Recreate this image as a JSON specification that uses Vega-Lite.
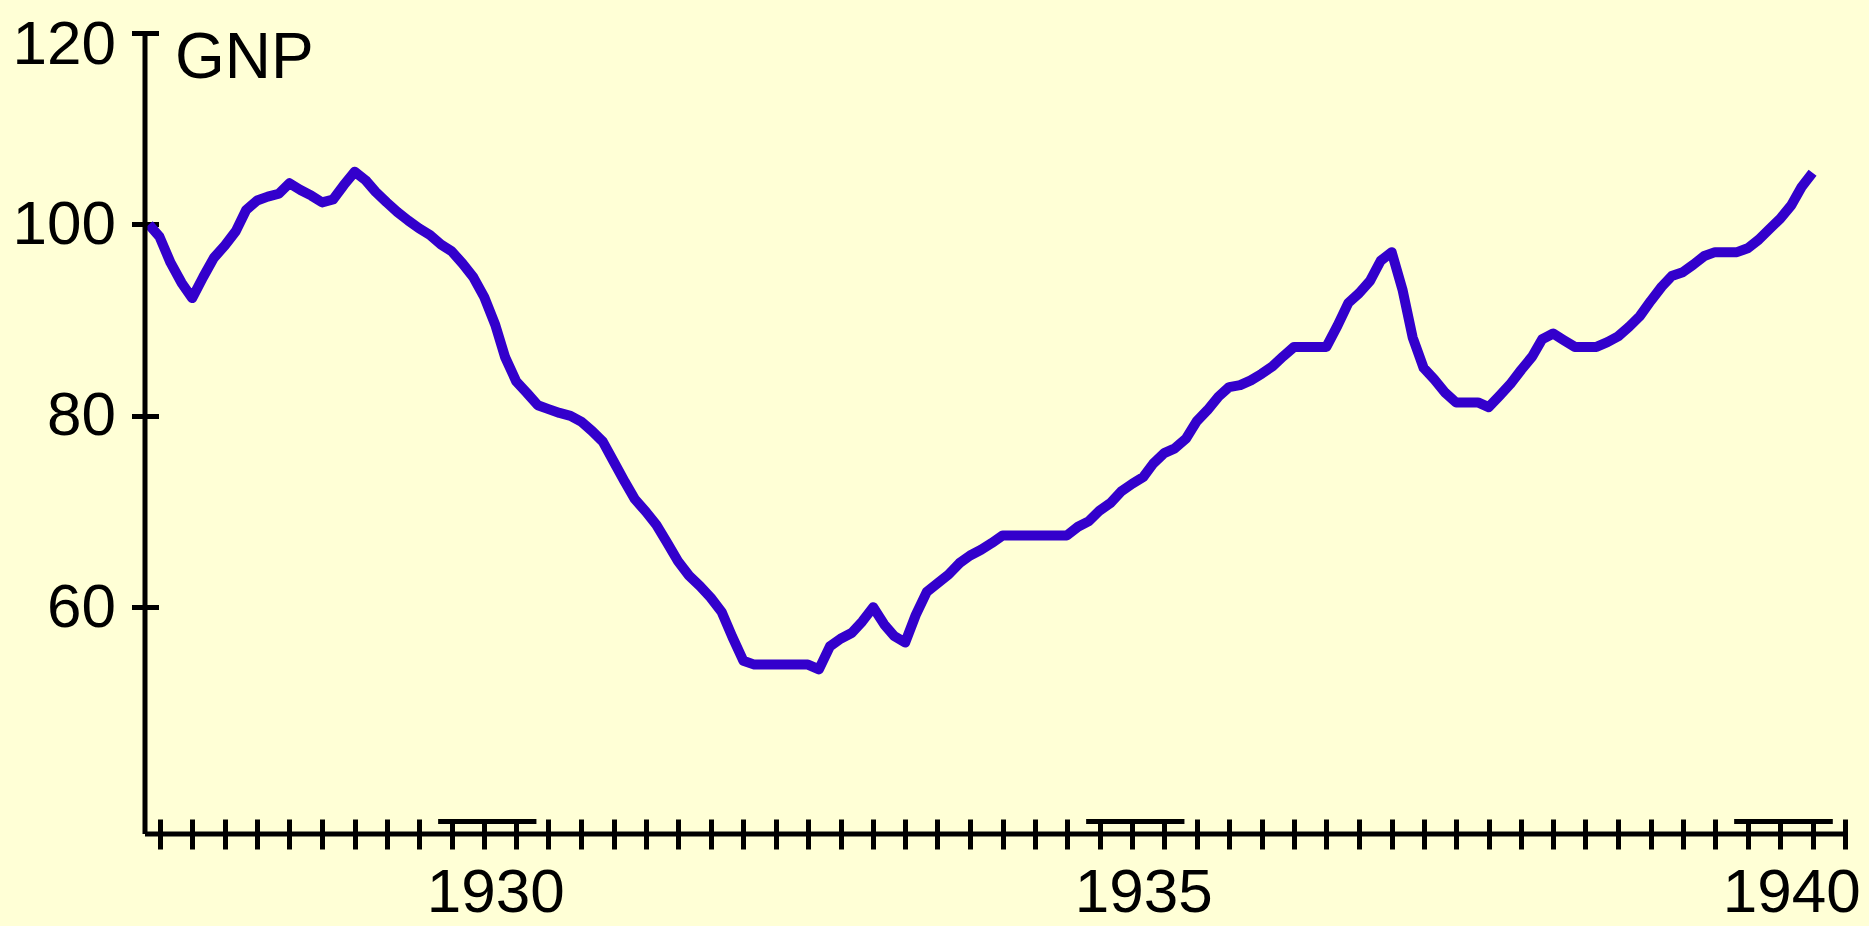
{
  "$schema": "https://vega.github.io/schema/vega-lite/v6.json",
  "autosize": "none",
  "width": 1702,
  "height": 801,
  "padding": {"left": 145, "top": 33, "right": 22, "bottom": 92},
  "background": "#FFFFD6",
  "config": {
    "view": {"stroke": null},
    "axis": {
      "labelFont": "Liberation Sans, sans-serif",
      "titleFont": "Liberation Sans, sans-serif",
      "labelColor": "black",
      "titleColor": "black",
      "tickColor": "black",
      "grid": false
    }
  },
  "datasets": {
    "gnp": [
      {"date": "1927-06-01", "gnp": 100.0},
      {"date": "1927-07-01", "gnp": 98.7},
      {"date": "1927-08-01", "gnp": 96.0},
      {"date": "1927-09-01", "gnp": 93.9},
      {"date": "1927-10-01", "gnp": 92.3},
      {"date": "1927-11-01", "gnp": 94.5},
      {"date": "1927-12-01", "gnp": 96.5},
      {"date": "1928-01-01", "gnp": 97.8},
      {"date": "1928-02-01", "gnp": 99.3},
      {"date": "1928-03-01", "gnp": 101.5},
      {"date": "1928-04-01", "gnp": 102.5},
      {"date": "1928-05-01", "gnp": 102.9},
      {"date": "1928-06-01", "gnp": 103.2},
      {"date": "1928-07-01", "gnp": 104.3},
      {"date": "1928-08-01", "gnp": 103.6},
      {"date": "1928-09-01", "gnp": 103.0},
      {"date": "1928-10-01", "gnp": 102.3},
      {"date": "1928-11-01", "gnp": 102.6},
      {"date": "1928-12-01", "gnp": 104.1},
      {"date": "1929-01-01", "gnp": 105.5},
      {"date": "1929-02-01", "gnp": 104.6},
      {"date": "1929-03-01", "gnp": 103.4},
      {"date": "1929-04-01", "gnp": 102.3},
      {"date": "1929-05-01", "gnp": 101.3},
      {"date": "1929-06-01", "gnp": 100.4},
      {"date": "1929-07-01", "gnp": 99.6},
      {"date": "1929-08-01", "gnp": 98.9},
      {"date": "1929-09-01", "gnp": 97.9},
      {"date": "1929-10-01", "gnp": 97.2},
      {"date": "1929-11-01", "gnp": 95.9},
      {"date": "1929-12-01", "gnp": 94.5},
      {"date": "1930-01-01", "gnp": 92.4},
      {"date": "1930-02-01", "gnp": 89.5},
      {"date": "1930-03-01", "gnp": 86.1},
      {"date": "1930-04-01", "gnp": 83.6},
      {"date": "1930-05-01", "gnp": 82.4},
      {"date": "1930-06-01", "gnp": 81.1},
      {"date": "1930-07-01", "gnp": 80.7},
      {"date": "1930-08-01", "gnp": 80.3},
      {"date": "1930-09-01", "gnp": 80.0},
      {"date": "1930-10-01", "gnp": 79.4},
      {"date": "1930-11-01", "gnp": 78.4},
      {"date": "1930-12-01", "gnp": 77.3},
      {"date": "1931-01-01", "gnp": 75.2},
      {"date": "1931-02-01", "gnp": 73.1},
      {"date": "1931-03-01", "gnp": 71.3},
      {"date": "1931-04-01", "gnp": 70.0},
      {"date": "1931-05-01", "gnp": 68.6},
      {"date": "1931-06-01", "gnp": 66.7},
      {"date": "1931-07-01", "gnp": 64.8},
      {"date": "1931-08-01", "gnp": 63.3},
      {"date": "1931-09-01", "gnp": 62.2},
      {"date": "1931-10-01", "gnp": 61.0},
      {"date": "1931-11-01", "gnp": 59.5},
      {"date": "1931-12-01", "gnp": 56.9},
      {"date": "1932-01-01", "gnp": 54.4},
      {"date": "1932-02-01", "gnp": 54.0},
      {"date": "1932-03-01", "gnp": 54.0},
      {"date": "1932-04-01", "gnp": 54.0},
      {"date": "1932-05-01", "gnp": 54.0},
      {"date": "1932-06-01", "gnp": 54.0},
      {"date": "1932-07-01", "gnp": 54.0},
      {"date": "1932-08-01", "gnp": 53.5},
      {"date": "1932-09-01", "gnp": 55.9},
      {"date": "1932-10-01", "gnp": 56.7},
      {"date": "1932-11-01", "gnp": 57.3},
      {"date": "1932-12-01", "gnp": 58.5},
      {"date": "1933-01-01", "gnp": 60.0},
      {"date": "1933-02-01", "gnp": 58.2},
      {"date": "1933-03-01", "gnp": 57.0},
      {"date": "1933-04-01", "gnp": 56.3},
      {"date": "1933-05-01", "gnp": 59.2},
      {"date": "1933-06-01", "gnp": 61.6},
      {"date": "1933-07-01", "gnp": 62.5},
      {"date": "1933-08-01", "gnp": 63.4},
      {"date": "1933-09-01", "gnp": 64.6},
      {"date": "1933-10-01", "gnp": 65.4},
      {"date": "1933-11-01", "gnp": 66.0},
      {"date": "1933-12-01", "gnp": 66.7},
      {"date": "1934-01-01", "gnp": 67.5},
      {"date": "1934-02-01", "gnp": 67.5},
      {"date": "1934-03-01", "gnp": 67.5},
      {"date": "1934-04-01", "gnp": 67.5},
      {"date": "1934-05-01", "gnp": 67.5},
      {"date": "1934-06-01", "gnp": 67.5},
      {"date": "1934-07-01", "gnp": 67.5},
      {"date": "1934-08-01", "gnp": 68.4},
      {"date": "1934-09-01", "gnp": 69.0},
      {"date": "1934-10-01", "gnp": 70.1},
      {"date": "1934-11-01", "gnp": 70.9},
      {"date": "1934-12-01", "gnp": 72.1},
      {"date": "1935-01-01", "gnp": 72.9},
      {"date": "1935-02-01", "gnp": 73.6},
      {"date": "1935-03-01", "gnp": 75.0},
      {"date": "1935-04-01", "gnp": 76.1},
      {"date": "1935-05-01", "gnp": 76.6},
      {"date": "1935-06-01", "gnp": 77.6},
      {"date": "1935-07-01", "gnp": 79.4},
      {"date": "1935-08-01", "gnp": 80.6},
      {"date": "1935-09-01", "gnp": 82.0},
      {"date": "1935-10-01", "gnp": 83.0},
      {"date": "1935-11-01", "gnp": 83.2},
      {"date": "1935-12-01", "gnp": 83.7},
      {"date": "1936-01-01", "gnp": 84.4},
      {"date": "1936-02-01", "gnp": 85.2},
      {"date": "1936-03-01", "gnp": 86.2},
      {"date": "1936-04-01", "gnp": 87.2},
      {"date": "1936-05-01", "gnp": 87.2},
      {"date": "1936-06-01", "gnp": 87.2},
      {"date": "1936-07-01", "gnp": 87.2},
      {"date": "1936-08-01", "gnp": 89.4},
      {"date": "1936-09-01", "gnp": 91.8},
      {"date": "1936-10-01", "gnp": 92.8},
      {"date": "1936-11-01", "gnp": 94.1},
      {"date": "1936-12-01", "gnp": 96.2},
      {"date": "1937-01-01", "gnp": 97.1},
      {"date": "1937-02-01", "gnp": 93.1},
      {"date": "1937-03-01", "gnp": 88.2},
      {"date": "1937-04-01", "gnp": 85.0},
      {"date": "1937-05-01", "gnp": 83.8},
      {"date": "1937-06-01", "gnp": 82.4},
      {"date": "1937-07-01", "gnp": 81.4},
      {"date": "1937-08-01", "gnp": 81.4},
      {"date": "1937-09-01", "gnp": 81.4},
      {"date": "1937-10-01", "gnp": 80.9},
      {"date": "1937-11-01", "gnp": 82.1},
      {"date": "1937-12-01", "gnp": 83.3},
      {"date": "1938-01-01", "gnp": 84.8},
      {"date": "1938-02-01", "gnp": 86.2},
      {"date": "1938-03-01", "gnp": 88.0},
      {"date": "1938-04-01", "gnp": 88.6},
      {"date": "1938-05-01", "gnp": 87.9},
      {"date": "1938-06-01", "gnp": 87.2},
      {"date": "1938-07-01", "gnp": 87.2},
      {"date": "1938-08-01", "gnp": 87.2},
      {"date": "1938-09-01", "gnp": 87.7},
      {"date": "1938-10-01", "gnp": 88.3},
      {"date": "1938-11-01", "gnp": 89.3},
      {"date": "1938-12-01", "gnp": 90.4},
      {"date": "1939-01-01", "gnp": 92.0},
      {"date": "1939-02-01", "gnp": 93.5},
      {"date": "1939-03-01", "gnp": 94.6},
      {"date": "1939-04-01", "gnp": 95.0},
      {"date": "1939-05-01", "gnp": 95.8},
      {"date": "1939-06-01", "gnp": 96.7},
      {"date": "1939-07-01", "gnp": 97.1},
      {"date": "1939-08-01", "gnp": 97.1},
      {"date": "1939-09-01", "gnp": 97.1},
      {"date": "1939-10-01", "gnp": 97.5},
      {"date": "1939-11-01", "gnp": 98.4},
      {"date": "1939-12-01", "gnp": 99.5},
      {"date": "1940-01-01", "gnp": 100.6},
      {"date": "1940-02-01", "gnp": 102.0},
      {"date": "1940-03-01", "gnp": 103.9},
      {"date": "1940-04-01", "gnp": 105.4}
    ],
    "brackets": [
      {"year": "1930", "from": "1929-08-24", "to": "1930-05-28"},
      {"year": "1935", "from": "1934-08-24", "to": "1935-05-28"},
      {"year": "1940", "from": "1939-08-24", "to": "1940-05-28"}
    ]
  },
  "layer": [
    {
      "data": {"name": "gnp"},
      "mark": {"type": "line", "color": "#3300CC", "strokeWidth": 10, "strokeJoin": "round"},
      "encoding": {
        "x": {
          "field": "date",
          "type": "temporal",
          "scale": {
            "type": "utc",
            "domain": [
              {"year": 1927, "month": 5, "date": 21, "utc": true},
              {"year": 1940, "month": 7, "date": 7, "utc": true}
            ]
          },
          "axis": {
            "title": null,
            "domain": false,
            "offset": -15,
            "tickSize": 30,
            "tickWidth": 5,
            "tickCount": {"interval": "month", "step": 3},
            "labelExpr": "utcmonth(datum.value) == 0 && utcyear(datum.value) % 5 == 0 ? '' + utcyear(datum.value) : ''",
            "labelFlush": false,
            "labelOverlap": false,
            "labelPadding": 13,
            "labelFontSize": 62,
            "labelOffset": 11
          }
        },
        "y": {
          "field": "gnp",
          "type": "quantitative",
          "scale": {"domain": [36.3, 120], "nice": false, "zero": false},
          "axis": {
            "title": "GNP",
            "titleAngle": 0,
            "titleAlign": "left",
            "titleBaseline": "top",
            "titleX": 16,
            "titleY": -7,
            "titleFontSize": 64,
            "titleFontWeight": "normal",
            "values": [60, 80, 100, 120],
            "domain": false,
            "offset": -13.5,
            "tickSize": 27,
            "tickWidth": 5,
            "labelPadding": 16,
            "labelFontSize": 62,
            "labelBaseline": "middle",
            "labelOffset": {"condition": {"test": "datum.value == 120", "value": 11}, "value": 0}
          }
        }
      }
    },
    {
      "data": {"values": [{}]},
      "mark": {"type": "rule", "color": "black", "strokeWidth": 5},
      "encoding": {
        "x": {"datum": {"year": 1927, "month": 5, "date": 21, "utc": true}, "type": "temporal"}
      }
    },
    {
      "data": {"values": [{}]},
      "mark": {"type": "rule", "color": "black", "strokeWidth": 5},
      "encoding": {
        "y": {"datum": 36.3, "type": "quantitative"}
      }
    },
    {
      "data": {"name": "brackets"},
      "mark": {"type": "rule", "color": "black", "strokeWidth": 5},
      "encoding": {
        "x": {"field": "from", "type": "temporal", "title": null},
        "x2": {"field": "to"},
        "y": {"datum": 37.6, "type": "quantitative"}
      }
    }
  ]
}
